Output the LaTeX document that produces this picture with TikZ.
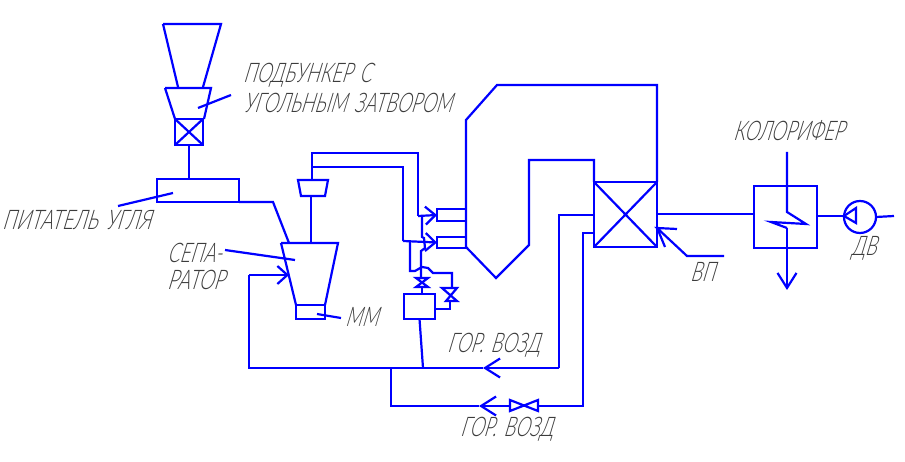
\documentclass[tikz,border=0pt]{standalone}
\usepackage{fontspec}
\newfontfamily\gostfont[FakeSlant=0.3,FakeStretch=0.67,WordSpace=1.5,UprightFont=* Light]{Lato}
\newfontfamily\gostwide[FakeSlant=0.3,FakeStretch=0.7,WordSpace=1.5,UprightFont=* Light]{Lato}
\usetikzlibrary{positioning, arrows.meta}
\definecolor{pipeblue}{RGB}{0,0,255}
\definecolor{labelgrey}{RGB}{60,60,60}
\tikzset{
  pipe/.style={draw=pipeblue, line width=2.2pt, line join=miter},
  blockbox/.style={pipe, rectangle, inner sep=0pt, outer sep=0pt},
  flow/.style={-{Straight Barb[length=10pt,width=18pt]}},
  bigflow/.style={-{Straight Barb[length=15pt,width=19pt]}},
  caption/.style={font=\gostfont\fontsize{27}{29}\selectfont, text=labelgrey, inner sep=0pt, anchor=west, align=left},
  widecaption/.style={caption, font=\gostwide\fontsize{27}{29}\selectfont},
}
\begin{document}
\begin{tikzpicture}[x=1pt, y=-1pt]
\useasboundingbox (0,0) rectangle (905,462);
% coal path
\draw [pipe] (163,24) -- (221,24) -- (203,87) (178,87) -- (163,24);
\draw [pipe] (165,88) -- (211,88) -- (204,119) (175,119) -- (165,88);
\node [blockbox, minimum width=28pt, minimum height=26pt] at (189,132) (lock) {};
\draw [pipe] (lock.north west) -- (lock.south east) (lock.north east) -- (lock.south west);
\node [blockbox, minimum width=82pt, minimum height=23pt] at (198,190.5) (feeder) {};
\draw [pipe] (lock.south) -- (189,179);
% separator and mill
\coordinate (septop) at (311,243);
\draw [pipe] (281,243) -- (338,243) -- (325,305) (296,305) -- (281,243);
\node [blockbox, minimum width=29pt, minimum height=14pt] at (310.5,312) (mill) {};
\draw [pipe] (feeder.south east) -- (273,202) -- (289,243);
\draw [pipe] (298,180) -- (328,180) -- (325,196) -- (301,196) -- cycle;
\draw [pipe] (311,196) -- (septop);
\draw [pipe] (312,180) -- (312,153) -- (418,153) -- (418,216);
\draw [pipe] (312,167) -- (403,167) -- (403,241);
% burners
\node [blockbox, minimum width=29pt, minimum height=12pt] at (451.5,215) (burnerA) {};
\node [blockbox, minimum width=29pt, minimum height=11pt] at (451.5,242.5) (burnerB) {};
\draw [pipe, flow] (418,216) -- (burnerA.west);
\draw [pipe, flow] (403,241) -- (burnerB.west);
\draw [pipe] (422,216) -- (422,237) -- (424,238) -- (425,248) -- (421,251) -- (421,278);
\draw [pipe] (410,241) -- (410,271) -- (415,271) -- (422,267) -- (428,268) -- (433,273) -- (452,273) -- (452,288);
% valves and gas box
\draw [pipe] (416,278) -- (428,278) -- (416,287) -- (428,287) -- cycle;
\draw [pipe] (442,288) -- (457,288) -- (446,301) -- (457,301) -- cycle;
\node [blockbox, minimum width=31pt, minimum height=25pt] at (419.5,306.5) (gasbox) {};
\draw [pipe] (422,287) -- (422,294);
\draw [pipe] (450,301) -- (450,309) -- (435,309);
% furnace
\draw [pipe] (466,247) -- (466,120) -- (497,85) -- (657,85) -- (657,182);
\draw [pipe] (466,247) -- (496,278) -- (529,245) -- (529,160) -- (594,160) -- (594,182);
% air heater
\node [blockbox, minimum width=63pt, minimum height=65pt] at (625.5,214.5) (heater) {};
\draw [pipe] (heater.north west) -- (heater.south east) (heater.north east) -- (heater.south west);
% air lines
\coordinate (mainR) at (559,368);
\coordinate (mainJ) at (391,368);
\draw [pipe] (heater.west |- 0,215) -- (559,215) -- (mainR);
\draw [pipe, bigflow] (mainR) -- (483,368);
\draw [pipe] (483,368) -- (mainJ) -- (249,368) -- (249,275);
\draw [pipe, flow] (249,275) -- (289,275);
\draw [pipe] (gasbox.south) -- (423,368);
\draw [pipe] (594,233) -- (583,233) -- (583,406) -- (538,406);
\draw [pipe] (510,406) -- (510,400) -- (538,411) -- (538,400) -- (510,411) -- cycle;
\draw [pipe, bigflow] (510,406) -- (479,406);
\draw [pipe] (479,406) -- (391,406) -- (mainJ);
% calorifer and fan
\node [blockbox, minimum width=63pt, minimum height=62pt] at (785.5,217) (calorifer) {};
\draw [pipe] (heater.east |- 0,214) -- (calorifer.west |- 0,214);
\draw [pipe] (787,152) -- (787,212) -- (806,224) -- (771,222) -- (787,228);
\draw [pipe, bigflow] (787,228) -- (787,290);
\node [pipe, circle, inner sep=0pt, outer sep=0pt, minimum size=32pt] at (860,217) (fan) {};
\draw [pipe] (calorifer.east |- 0,216) -- (844,216);
\draw [pipe] (844,216) -- (856,208) -- (856,223) -- cycle;
\draw [pipe] (fan.east) -- (894,216);
% leaders
\draw [pipe] (198,108) -- (231,95);
\draw [pipe] (118,206) -- (173,193);
\draw [pipe] (225,250) -- (295,260);
\draw [pipe] (317,314) -- (341,318);
\draw [pipe] (724,256) -- (687,256) -- (657,228) -- (677,229);
\draw [pipe] (658,230) -- (665,247);
% labels
\node [caption] at (243,75) (bunkerA) {ПОДБУНКЕР С};
\node [caption] at (243,103) (bunkerB) {УГОЛЬНЫМ ЗАТВОРОМ};
\node [widecaption] at (2,220) (feedtxt) {ПИТАТЕЛЬ УГЛЯ};
\node [caption] at (167,253) (septxtA) {СЕПА-};
\node [widecaption] at (167,280) (septxtB) {РАТОР};
\node [caption] at (345,317) (milltxt) {ММ};
\node [caption] at (447,345) (airtxtA) {ГОР. ВОЗД};
\node [caption] at (460,429) (airtxtB) {ГОР. ВОЗД};
\node [caption] at (690,272) (vptxt) {ВП};
\node [caption] at (733,131) (caltxt) {КОЛОРИФЕР};
\node [caption] at (851,248) (fantxt) {ДВ};
\end{tikzpicture}
\end{document}
